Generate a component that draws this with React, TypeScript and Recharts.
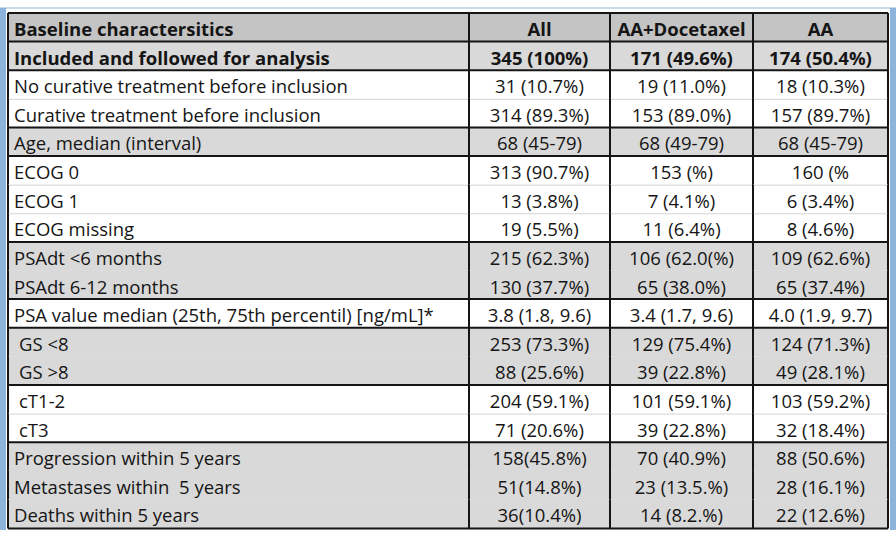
import React from "react";
import { BarChart, Bar, XAxis, YAxis } from "recharts";

const rowLabels = [
  "Baseline charactersitics",
  "Included and followed for analysis",
  "No curative treatment before inclusion",
  "Curative treatment before inclusion",
  "Age, median (interval)",
  "ECOG 0",
  "ECOG 1",
  "ECOG missing",
  "PSAdt <6 months",
  "PSAdt 6-12 months",
  "PSA value median (25th, 75th percentil) [ng/mL]*",
  " GS <8",
  " GS >8",
  " cT1-2",
  " cT3",
  "Progression within 5 years",
  "Metastases within  5 years",
  "Deaths within 5 years",
];

const allValues = [
  "All", "345 (100%)", "31 (10.7%)", "314 (89.3%)", "68 (45-79)", "313 (90.7%)",
  "13 (3.8%)", "19 (5.5%)", "215 (62.3%)", "130 (37.7%)", "3.8 (1.8, 9.6)",
  "253 (73.3%)", "88 (25.6%)", "204 (59.1%)", "71 (20.6%)", "158(45.8%)",
  "51(14.8%)", "36(10.4%)",
];

const docetaxelValues = [
  "AA+Docetaxel", "171 (49.6%)", "19 (11.0%)", "153 (89.0%)", "68 (49-79)", "153 (%)",
  "7 (4.1%)", "11 (6.4%)", "106 (62.0(%)", "65 (38.0%)", "3.4 (1.7, 9.6)",
  "129 (75.4%)", "39 (22.8%)", "101 (59.1%)", "39 (22.8%)", "70 (40.9%)",
  "23 (13.5.%)", "14 (8.2.%)",
];

const aaValues = [
  "AA", "174 (50.4%)", "18 (10.3%)", "157 (89.7%)", "68 (45-79)", "160 (%",
  "6 (3.4%)", "8 (4.6%)", "109 (62.6%)", "65 (37.4%)", "4.0 (1.9, 9.7)",
  "124 (71.3%)", "49 (28.1%)", "103 (59.2%)", "32 (18.4%)", "88 (50.6%)",
  "28 (16.1%)", "22 (12.6%)",
];

// layout / styling (not data)
const COL_W = [461, 141, 143, 135];
const TOTAL_W = COL_W.reduce((a, b) => a + b, 0);
const GROUP_START = new Set([0, 1, 2, 4, 5, 8, 10, 11, 13, 15]);
const SHADED = new Set([0, 1, 4, 8, 9, 11, 12, 15, 16, 17]);
const BOLD = new Set([0, 1]);
const FONT = "'Open Sans', sans-serif";

const columns = [rowLabels, allValues, docetaxelValues, aaValues];

const data = rowLabels.map((label, i) => ({
  row: i,
  c0: COL_W[0],
  c1: COL_W[1],
  c2: COL_W[2],
  c3: COL_W[3],
}));

const makeCell = (col: number) => (props: any) => {
  const { x, y, width, height, index } = props;
  const i = index as number;
  const text = columns[col][i];
  const fill = i === 0 ? "#c4c4c4" : SHADED.has(i) ? "#d9d9d9" : "#ffffff";
  const indent = col === 0 && text.startsWith(" ");
  const tx = col === 0 ? x + (indent ? 11 : 6) : x + width / 2;
  const last = i === rowLabels.length - 1;
  return (
    <g>
      <rect x={x} y={y} width={width} height={height} fill={fill} />
      {GROUP_START.has(i) ? (
        <line x1={x} x2={x + width} y1={y} y2={y} stroke="#151515" strokeWidth={2} />
      ) : !SHADED.has(i) ? (
        <line x1={x} x2={x + width} y1={y + 0.5} y2={y + 0.5} stroke="#d4d4d4" strokeWidth={1} />
      ) : null}
      {last && (
        <line x1={x} x2={x + width} y1={y + height} y2={y + height} stroke="#151515" strokeWidth={2} />
      )}
      <line x1={x} x2={x} y1={y} y2={y + height} stroke="#151515" strokeWidth={2} />
      {col === 3 && (
        <line x1={x + width} x2={x + width} y1={y} y2={y + height} stroke="#151515" strokeWidth={2} />
      )}
      <text
        x={tx}
        y={y + height / 2 + 1}
        textAnchor={col === 0 ? "start" : "middle"}
        dominantBaseline="central"
        fontFamily={FONT}
        fontSize={18.5}
        fontWeight={BOLD.has(i) ? 700 : 400}
        fill="#151515"
        style={{ whiteSpace: "pre" }}
      >
        {indent ? text.trimStart() : text}
      </text>
    </g>
  );
};

export default function App() {
  return (
    <div style={{ position: "relative", width: 896, height: 536, background: "#fff" }}>
      <style>{"body{margin:0}"}</style>
      <div style={{ position: "absolute", left: 0, top: 7, width: 896, height: 2, background: "#c6daee" }} />
      <div style={{ position: "absolute", left: 0, top: 8, width: 6, height: 522, background: "#8db4dc" }} />
      <div style={{ position: "absolute", left: 890, top: 8, width: 6, height: 522, background: "#8db4dc" }} />
      <div style={{ position: "absolute", left: 0, top: 0 }}>
        <BarChart
          width={896}
          height={536}
          data={data}
          layout="vertical"
          margin={{ top: 13, right: 8, bottom: 8, left: 8 }}
          barCategoryGap={0}
          barGap={0}
        >
          <XAxis type="number" domain={[0, TOTAL_W]} hide />
          <YAxis type="category" dataKey="row" hide />
          <Bar dataKey="c0" stackId="t" isAnimationActive={false} shape={makeCell(0)} />
          <Bar dataKey="c1" stackId="t" isAnimationActive={false} shape={makeCell(1)} />
          <Bar dataKey="c2" stackId="t" isAnimationActive={false} shape={makeCell(2)} />
          <Bar dataKey="c3" stackId="t" isAnimationActive={false} shape={makeCell(3)} />
        </BarChart>
      </div>
    </div>
  );
}
